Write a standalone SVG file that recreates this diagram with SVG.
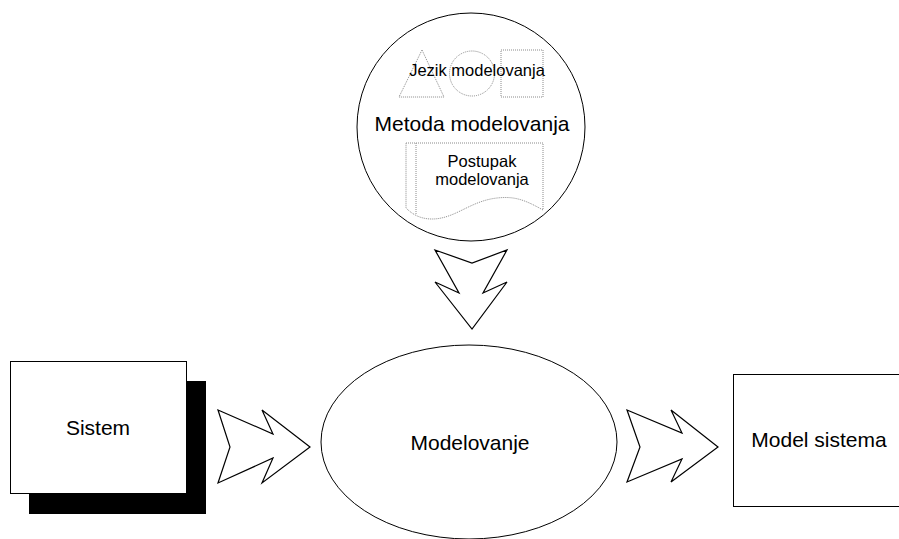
<svg xmlns="http://www.w3.org/2000/svg" width="899" height="539" viewBox="0 0 899 539">
  <style>
    .shape { fill: #ffffff; stroke: #000000; stroke-width: 1; }
    .dotted { fill: none; stroke: #8a8a8a; stroke-width: 1; stroke-dasharray: 1 1; }
    .arrow { fill: #ffffff; stroke: #000000; stroke-width: 1.2; stroke-linejoin: miter; }
    .lbl { font-family: "Liberation Sans", Arial, sans-serif; fill: #000000; text-anchor: middle; }
    .big { font-size: 21px; }
    .small { font-size: 16.5px; }
  </style>
  <rect width="899" height="539" fill="#ffffff"/>

  <!-- Method bubble with language symbols and procedure document -->
  <g id="metoda">
    <circle class="shape" cx="471" cy="127" r="114"/>
    <polygon class="dotted" points="422,50 444,97 399,97"/>
    <circle class="dotted" cx="472" cy="73.5" r="22.5"/>
    <rect class="dotted" x="501" y="50" width="42" height="47"/>
    <text class="lbl small" x="477" y="76">Jezik modelovanja</text>
    <text class="lbl big" x="472" y="131">Metoda modelovanja</text>
    <path class="dotted" d="M406,143 H543 V210 C525,200 515,196 497,198 C470,201 455,219 432,219 C420,219 412,214 406,208 Z"/>
    <line class="dotted" x1="416" y1="143" x2="416" y2="214"/>
    <text class="lbl small" x="482" y="167">Postupak</text>
    <text class="lbl small" x="482" y="185">modelovanja</text>
  </g>

  <!-- System box with drop shadow -->
  <g id="sistem">
    <rect x="29" y="381" width="177" height="133" fill="#000000"/>
    <rect class="shape" x="10.5" y="361.5" width="176" height="132"/>
    <text class="lbl big" x="98" y="435">Sistem</text>
  </g>

  <!-- Modelling process -->
  <g id="modelovanje">
    <ellipse class="shape" cx="469" cy="442" rx="148" ry="97"/>
    <text class="lbl big" x="470" y="450">Modelovanje</text>
  </g>

  <!-- Resulting model -->
  <g id="model-sistema">
    <rect class="shape" x="733.5" y="374.5" width="170" height="132"/>
    <text class="lbl big" x="819" y="447">Model sistema</text>
  </g>

  <!-- Block arrows -->
  <g id="connectors">
    <polygon class="arrow" points="435,250 472,263 507,250 483,293 507,282 472,329 435,282 459,293"/>
    <polygon class="arrow" points="218,410 273,434 262,410 310,447 262,483 273,458 218,483 230,447"/>
    <polygon class="arrow" points="627,410 682,433 671,410 718,447 671,482 682,459 627,482 640,447"/>
  </g>
</svg>
